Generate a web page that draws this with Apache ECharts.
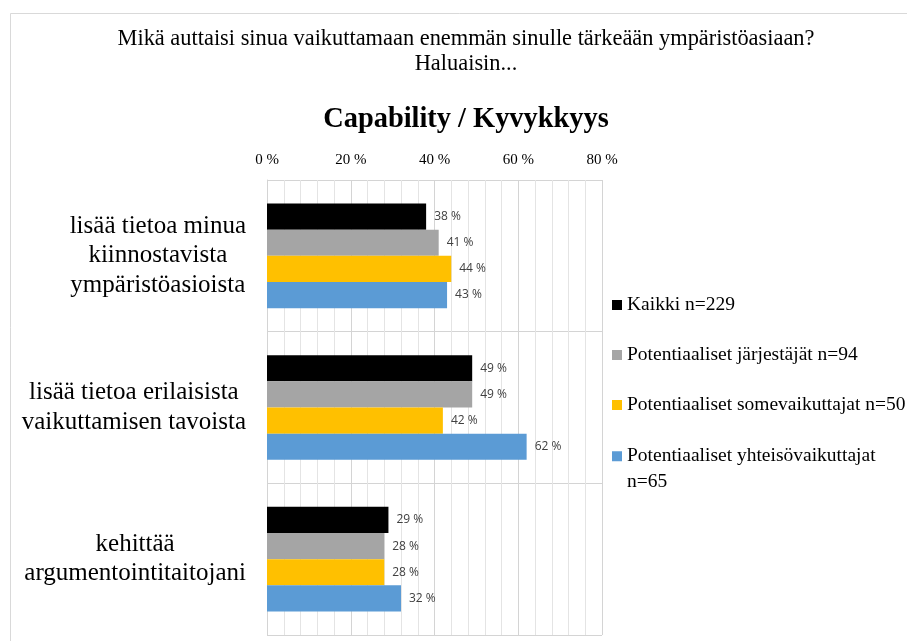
<!DOCTYPE html>
<html>
<head>
<meta charset="utf-8">
<script src="https://cdn.jsdelivr.net/npm/echarts@6/dist/echarts.min.js"></script>
<style>
html,body{margin:0;padding:0;background:#fff;}
#chart{width:907px;height:641px;}
</style>
</head>
<body>
<div id="chart"></div>
<script>
const categories = [
  'lisää tietoa minua\nkiinnostavista\nympäristöasioista',
  'lisää tietoa erilaisista\nvaikuttamisen tavoista',
  'kehittää\nargumentointitaitojani'
];
const seriesNames = [
  'Kaikki n=229',
  'Potentiaaliset järjestäjät n=94',
  'Potentiaaliset somevaikuttajat n=50',
  'Potentiaaliset yhteisövaikuttajat\nn=65'
];
const kaikki = [38, 49, 29];
const jarjestajat = [41, 49, 28];
const somevaikuttajat = [44, 42, 28];
const yhteisovaikuttajat = [43, 62, 32];
const xTicks = [0, 20, 40, 60, 80];
const titleText = 'Mikä auttaisi sinua vaikuttamaan enemmän sinulle tärkeään ympäristöasiaan?\nHaluaisin...';
const chartTitle = 'Capability / Kyvykkyys';

const colors = ['#000000', '#A5A5A5', '#FFC000', '#5B9BD5'];
const serif = 'Liberation Serif';
const seriesValues = [kaikki, jarjestajat, somevaikuttajat, yhteisovaikuttajat];

const legendText = { fontFamily: serif, fontSize: 19.5, color: '#000', lineHeight: 22 };

const chart = echarts.init(document.getElementById('chart'));
const option = {
  animation: false,
  backgroundColor: '#fff',
  textStyle: { fontFamily: serif },
  graphic: [{
    type: 'rect', silent: true,
    shape: { x: 10.5, y: 13.5, width: 1000, height: 700 },
    style: { fill: 'none', stroke: '#d9d9d9', lineWidth: 1 }
  }],
  title: [{
    text: titleText,
    left: 466, top: 27, padding: 0, textAlign: 'center',
    textStyle: { fontFamily: serif, fontSize: 22.4, fontWeight: 'normal', color: '#000', lineHeight: 25 }
  }, {
    text: chartTitle,
    left: 466, top: 104, padding: 0, textAlign: 'center',
    textStyle: { fontFamily: serif, fontSize: 28.4, fontWeight: 'bold', color: '#000', lineHeight: 32 }
  }],
  legend: [{
    orient: 'vertical', left: 612, top: 294, padding: 0,
    itemWidth: 10, itemHeight: 10, itemGap: 28,
    icon: 'rect',
    textStyle: legendText,
    data: seriesNames.slice(0, 3)
  }, {
    orient: 'vertical', left: 612, top: 418, padding: 0,
    itemWidth: 10, itemHeight: 10,
    icon: 'rect',
    textStyle: Object.assign({}, legendText, { lineHeight: 25.5 }),
    formatter: name => '\n' + name,
    data: seriesNames.slice(3)
  }],
  grid: { left: 267, right: 305, top: 180, bottom: 6, containLabel: false },
  xAxis: {
    type: 'value', position: 'top',
    min: xTicks[0], max: xTicks[xTicks.length - 1], interval: xTicks[1] - xTicks[0],
    axisLine: { show: false }, axisTick: { show: false },
    axisLabel: { margin: 12, fontFamily: serif, fontSize: 15, color: '#000', formatter: v => v + ' %' },
    splitLine: { show: true, lineStyle: { color: '#d4d4d4', width: 1 } },
    minorTick: { show: false, splitNumber: 5 },
    minorSplitLine: { show: true, lineStyle: { color: '#e4e4e4', width: 1 } }
  },
  yAxis: {
    type: 'category', inverse: true, data: categories,
    axisLine: { show: true, lineStyle: { color: '#d4d4d4' } },
    axisTick: { show: false },
    splitLine: { show: true, lineStyle: { color: '#d4d4d4' } },
    axisLabel: {
      margin: 21, align: 'right',
      fontFamily: serif, fontSize: 25, color: '#000', lineHeight: 29.5,
      formatter: v => v.split('\n').map(s => '{c|' + s + '}').join('\n'),
      rich: { c: { align: 'center', fontFamily: serif, fontSize: 25, lineHeight: 29.5, color: '#000' } }
    }
  },
  series: seriesNames.map((n, i) => ({
    name: n, type: 'bar', data: seriesValues[i],
    barGap: '0%', barCategoryGap: '31%',
    itemStyle: { color: colors[i] },
    label: {
      show: true, position: 'right', distance: 8,
      fontFamily: 'Open Sans', fontSize: 12, color: '#404040',
      formatter: p => p.value + ' %'
    }
  }))
};
chart.setOption(option);
</script>
</body>
</html>
